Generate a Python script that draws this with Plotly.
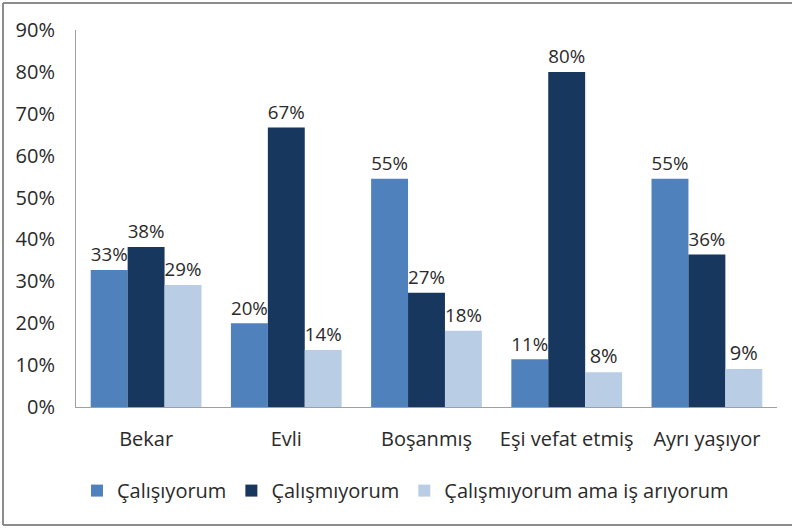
import plotly.graph_objects as go

categories = ["Bekar", "Evli", "Boşanmış", "Eşi vefat etmiş", "Ayrı yaşıyor"]
series_names = ["Çalışıyorum", "Çalışmıyorum", "Çalışmıyorum ama iş arıyorum"]
calisiyorum = [0.327, 0.200, 0.545, 0.114, 0.545]
calismiyorum = [0.382, 0.667, 0.273, 0.800, 0.364]
is_ariyor = [0.291, 0.136, 0.182, 0.083, 0.091]
y_ticks = [0, 0.1, 0.2, 0.3, 0.4, 0.5, 0.6, 0.7, 0.8, 0.9]
colors = ["#4F81BD", "#17375E", "#B9CDE5"]

FONT = "Open Sans"
FS = 20
TXT = "#2a2a2a"
fig = go.Figure()
for name, vals, col in zip(series_names, [calisiyorum, calismiyorum, is_ariyor], colors):
    fig.add_trace(go.Bar(
        x=categories, y=vals, name=name,
        marker=dict(color=col, line=dict(width=0)),
        texttemplate="%{y:.0%}", textposition="outside",
        textfont=dict(family=FONT, size=FS, color=TXT),
        cliponaxis=False,
    ))

# frame (left, top, bottom edges) in paper coordinates
xl = -73 / 701
xr = (792 - 76) / 701 + 0.05
yb = -(525 - 407) / 377
yt = (407 - 3) / 377
frame = dict(color="#8C8C8C", width=2)
shapes = [
    dict(type="line", xref="paper", yref="paper", x0=xl, x1=xl, y0=yb, y1=yt, line=frame),
    dict(type="line", xref="paper", yref="paper", x0=xl, x1=xr, y0=yt, y1=yt, line=frame),
    dict(type="line", xref="paper", yref="paper", x0=xl, x1=xr, y0=yb, y1=yb, line=frame),
]

fig.update_layout(
    width=792, height=530,
    margin=dict(l=76, r=15, t=30, b=123, autoexpand=False),
    paper_bgcolor="white", plot_bgcolor="white",
    barmode="group", bargap=0.21, bargroupgap=0,
    font=dict(family=FONT, size=FS, color=TXT),
    showlegend=True,
    legend=dict(orientation="h", x=0.47, xanchor="center", y=-0.17, yanchor="top",
                font=dict(family=FONT, size=FS, color=TXT),
                itemsizing="constant", traceorder="normal"),
    xaxis=dict(showline=True, linecolor="#A0A0A0", linewidth=1, ticks="",
               tickfont=dict(family=FONT, size=FS, color=TXT), showgrid=False,
               automargin=False, ticklabelstandoff=14),
    yaxis=dict(range=[0, 0.9], tickvals=y_ticks, tickformat=".0%",
               showline=True, linecolor="#A0A0A0", linewidth=1, showgrid=False,
               zeroline=False, ticks="", tickfont=dict(family=FONT, size=FS, color=TXT),
               ticklabelstandoff=16, automargin=False),
    shapes=shapes,
)
fig.write_html("out.html", config={"displayModeBar": False},
               post_script="document.body.style.margin='0';")
